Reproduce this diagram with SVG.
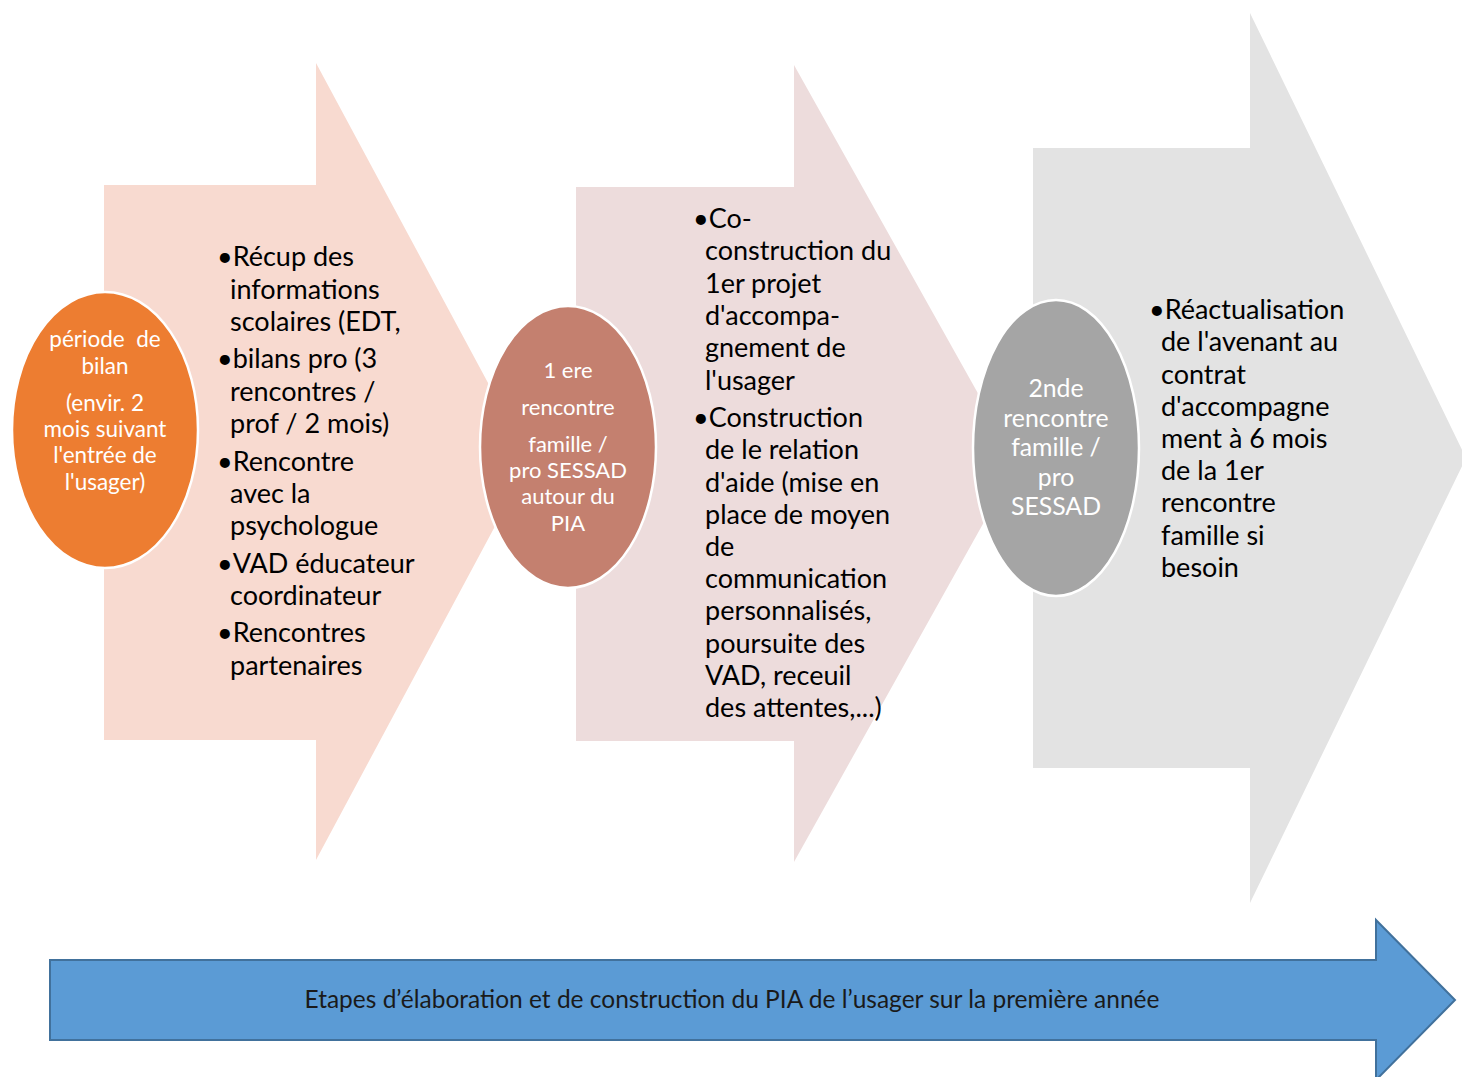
<svg xmlns="http://www.w3.org/2000/svg" width="1462" height="1077" viewBox="0 0 1462 1077">
<style>
.t{font-family:Lato,"Liberation Sans",sans-serif;font-size:27px;fill:#000}
.e{font-family:Lato,"Liberation Sans",sans-serif;fill:#fff;text-anchor:middle}
</style>
<rect width="1462" height="1077" fill="#fff"/>
<g id="arrow3"><path d="M1033,148 H1250 V13 L1466,458 L1250,903 V768 H1033 Z" fill="#E3E3E3"/></g>
<g id="arrow2"><path d="M576,187 H794 V65 L1017,463 L794,862 V741 H576 Z" fill="#EDDCDC"/></g>
<g id="arrow1"><path d="M104,185 H316 V63 L530,461 L316,860 V740 H104 Z" fill="#F8DAD0"/></g>
<g id="step1">
<ellipse cx="105" cy="430" rx="93" ry="138" fill="#ED7D31" stroke="#fff" stroke-width="2.5"/>
<text class="e" font-size="22.5"><tspan x="105" y="347">période&#160; de</tspan><tspan x="105" y="374">bilan</tspan><tspan x="105" y="411">(envir. 2</tspan><tspan x="105" y="437">mois suivant</tspan><tspan x="105" y="463">l'entrée de</tspan><tspan x="105" y="490">l'usager)</tspan></text>
</g>
<g id="text1"><text class="t"><tspan x="217" y="266">•Récup des</tspan><tspan x="230" y="299">informations</tspan><tspan x="230" y="331">scolaires (EDT,</tspan><tspan x="217" y="368">•bilans pro (3</tspan><tspan x="230" y="401">rencontres /</tspan><tspan x="230" y="433">prof / 2 mois)</tspan><tspan x="217" y="471">•Rencontre</tspan><tspan x="230" y="503">avec la</tspan><tspan x="230" y="535">psychologue</tspan><tspan x="217" y="573">•VAD éducateur</tspan><tspan x="230" y="605">coordinateur</tspan><tspan x="217" y="642">•Rencontres</tspan><tspan x="230" y="675">partenaires</tspan></text></g>
<g id="step2">
<ellipse cx="568" cy="447" rx="88" ry="141" fill="#C4806F" stroke="#fff" stroke-width="2.5"/>
<text class="e" font-size="22"><tspan x="568" y="378">1 ere</tspan><tspan x="568" y="415">rencontre</tspan><tspan x="568" y="452">famille /</tspan><tspan x="568" y="478">pro SESSAD</tspan><tspan x="568" y="504">autour du</tspan><tspan x="568" y="531">PIA</tspan></text>
</g>
<g id="text2"><text class="t"><tspan x="693" y="228">•Co-</tspan><tspan x="705" y="260">construction du</tspan><tspan x="705" y="293">1er projet</tspan><tspan x="705" y="325">d'accompa-</tspan><tspan x="705" y="357">gnement de</tspan><tspan x="705" y="390">l'usager</tspan><tspan x="693" y="427">•Construction</tspan><tspan x="705" y="459">de le relation</tspan><tspan x="705" y="492">d'aide (mise en</tspan><tspan x="705" y="524">place de moyen</tspan><tspan x="705" y="556">de</tspan><tspan x="705" y="588">communication</tspan><tspan x="705" y="620">personnalisés,</tspan><tspan x="705" y="653">poursuite des</tspan><tspan x="705" y="685">VAD, receuil</tspan><tspan x="705" y="717">des attentes,...)</tspan></text></g>
<g id="step3">
<ellipse cx="1056" cy="448" rx="83" ry="148" fill="#A5A5A5" stroke="#fff" stroke-width="2.5"/>
<text class="e" font-size="24.8"><tspan x="1056" y="397">2nde</tspan><tspan x="1056" y="427">rencontre</tspan><tspan x="1056" y="456">famille /</tspan><tspan x="1056" y="486">pro</tspan><tspan x="1056" y="515">SESSAD</tspan></text>
</g>
<g id="text3"><text class="t"><tspan x="1149" y="319">•Réactualisation</tspan><tspan x="1161" y="351">de l'avenant au</tspan><tspan x="1161" y="384">contrat</tspan><tspan x="1161" y="416">d'accompagne</tspan><tspan x="1161" y="448">ment à 6 mois</tspan><tspan x="1161" y="480">de la 1er</tspan><tspan x="1161" y="512">rencontre</tspan><tspan x="1161" y="545">famille si</tspan><tspan x="1161" y="577">besoin</tspan></text></g>
<g id="timeline">
<path d="M50,960 H1376 V920 L1455,1000 L1376,1080 V1040 H50 Z" fill="#5B9BD5" stroke="#41719C" stroke-width="2"/>
<text x="732" y="1008" font-family="Lato,'Liberation Sans',sans-serif" font-size="24.5" fill="#1a1a1a" text-anchor="middle">Etapes d’élaboration et de construction du PIA de l’usager sur la première année</text>
</g>
</svg>
